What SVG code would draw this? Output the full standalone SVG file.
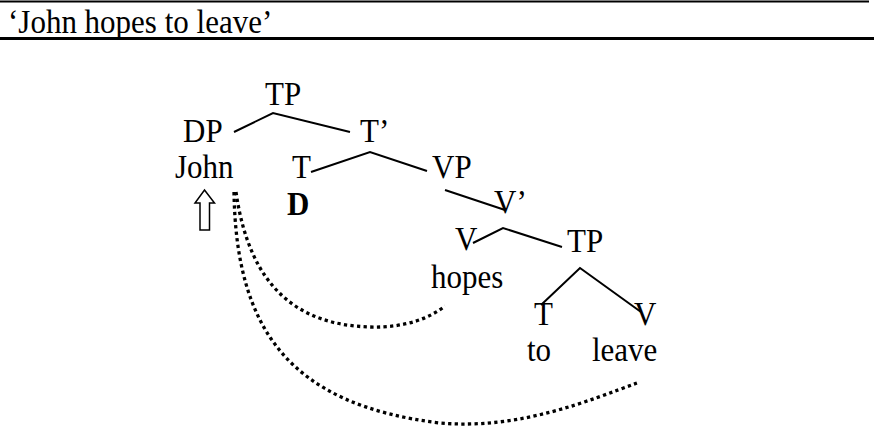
<svg xmlns="http://www.w3.org/2000/svg" width="874" height="442" viewBox="0 0 874 442">
<style>
text{font-family:"Liberation Serif","Times New Roman",serif;font-size:31px;fill:#000}
.b{font-weight:bold}
.edge{fill:none;stroke:#000;stroke-width:2}
.dot{fill:none;stroke:#000;stroke-width:3.3;stroke-dasharray:3.3 3.3}
</style>
<rect width="874" height="442" fill="#fff"/>
<g id="header">
<line x1="0" y1="1.5" x2="869" y2="1.5" stroke="#000" stroke-width="2"/>
<text transform="translate(8,33) scale(1,1.12)">‘John hopes to leave’</text>
<line x1="0" y1="38.5" x2="874" y2="38.5" stroke="#000" stroke-width="3"/>
</g>
<g id="connectors">
<polyline class="edge" points="234,132 273,113 350,132"/>
<polyline class="edge" points="311,172 370,152 427,171"/>
<line class="edge" x1="445" y1="190" x2="505" y2="210"/>
<polyline class="edge" points="473,243 503,228 562,247"/>
<polyline class="edge" points="541,305 580,268 641,312"/>
<path class="dot" d="M236,192 C250,290 300,325 370,327 C405,328 430,318 445,306"/>
<path class="dot" d="M234,192 C236,330 290,405 440,423 C520,430 590,400 637,383"/>
</g>
<g id="arrow"><polygon points="204.5,190 214.5,203 209.5,203 209.5,230 200,230 200,203 195,203" fill="#fff" stroke="#000" stroke-width="1.5"/></g>
<g id="n-tp1"><text transform="translate(265,105) scale(1,1.1)">TP</text></g>
<g id="n-dp"><text transform="translate(183,142) scale(1,1.1)">DP</text></g>
<g id="n-tbar"><text transform="translate(360,142) scale(1,1.1)">T’</text></g>
<g id="n-john"><text transform="translate(175,178) scale(1,1.1)">John</text></g>
<g id="n-t1"><text transform="translate(292,178) scale(1,1.1)">T</text></g>
<g id="n-vp"><text transform="translate(432,178) scale(1,1.1)">VP</text></g>
<g id="n-d"><text class="b" transform="translate(287,215) scale(1,1.1)">D</text></g>
<g id="n-vbar"><text transform="translate(494,213) scale(1,1.1)">V’</text></g>
<g id="n-v1"><text transform="translate(455,250) scale(1,1.1)">V</text></g>
<g id="n-tp2"><text transform="translate(567,252) scale(1,1.1)">TP</text></g>
<g id="n-hopes"><text transform="translate(431,288) scale(1,1.1)">hopes</text></g>
<g id="n-t2"><text transform="translate(534,325) scale(1,1.1)">T</text></g>
<g id="n-v2"><text transform="translate(634,325) scale(1,1.1)">V</text></g>
<g id="n-to"><text transform="translate(527,361) scale(1,1.1)">to</text></g>
<g id="n-leave"><text transform="translate(592,361) scale(1,1.1)">leave</text></g>
</svg>
